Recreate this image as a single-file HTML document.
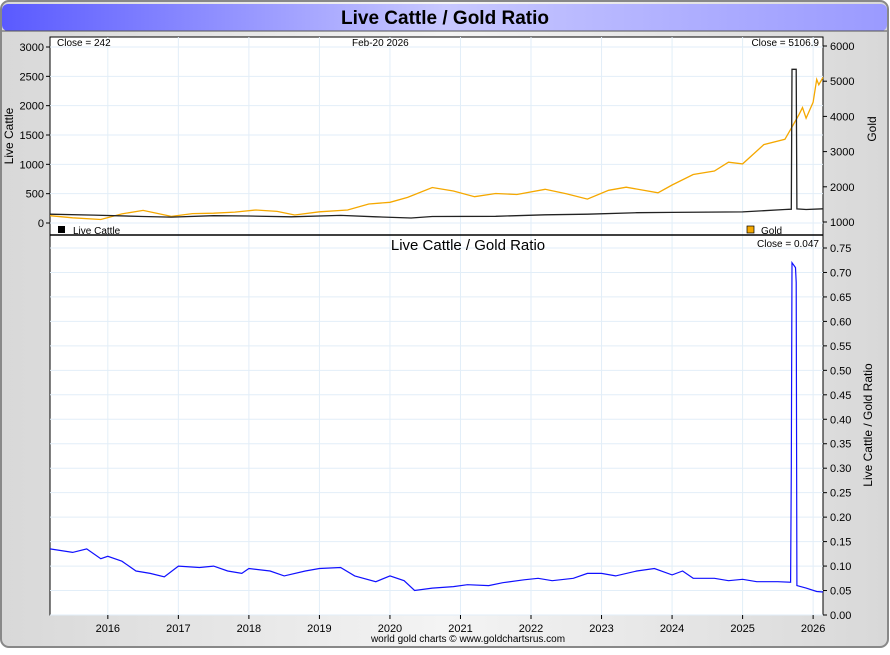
<!DOCTYPE html>
<html><head><meta charset="utf-8"><style>
body{margin:0;background:#fff;font-family:"Liberation Sans",sans-serif}
#wrap{position:relative;width:890px;height:650px}
</style></head><body>
<div id="wrap">
<svg id="svg" width="890" height="650" xmlns="http://www.w3.org/2000/svg" font-family="Liberation Sans, sans-serif">
<defs>
<linearGradient id="tg" x1="0" x2="1"><stop offset="0" stop-color="#5a5aff"/><stop offset="0.5" stop-color="#c8c8ff"/><stop offset="1" stop-color="#9a9aff"/></linearGradient>
<linearGradient id="bg" x1="0" x2="1"><stop offset="0" stop-color="#d8d8d8"/><stop offset="0.5" stop-color="#f4f4f4"/><stop offset="1" stop-color="#d8d8d8"/></linearGradient>
</defs>
<rect x="1" y="1" width="887" height="646" rx="8" fill="url(#bg)" stroke="#888" stroke-width="2"/>
<rect x="2" y="4" width="885" height="27" rx="6" fill="url(#tg)"/>
<line x1="2" y1="31" x2="887" y2="31" stroke="#555"/>
<text x="445" y="24" text-anchor="middle" font-size="19" font-weight="bold">Live Cattle / Gold Ratio</text>
<rect x="50" y="37" width="773" height="578" fill="#fff" stroke="#000"/>
<g id="grid"></g>
<g id="marks"></g>
<line x1="50" y1="235" x2="823" y2="235" stroke="#000" stroke-width="1.5"/>
<g id="axes" font-size="11"></g>
<text x="57" y="46" font-size="10">Close = 242</text>
<text x="352" y="46" font-size="10">Feb-20  2026</text>
<text x="819" y="46" font-size="10" text-anchor="end">Close = 5106.9</text>
<rect x="58" y="226" width="7" height="7" fill="#000"/>
<text x="73" y="234" font-size="10">Live Cattle</text>
<rect x="747" y="226" width="7" height="7" fill="#f5a800" stroke="#000" stroke-width="0.7"/>
<text x="761" y="234" font-size="10">Gold</text>
<text x="468" y="250" font-size="15" text-anchor="middle">Live Cattle  /  Gold Ratio</text>
<text x="819" y="247" font-size="10" text-anchor="end">Close = 0.047</text>
<text transform="translate(13,136) rotate(-90)" font-size="12" text-anchor="middle">Live Cattle</text>
<text transform="translate(876,129) rotate(-90)" font-size="12" text-anchor="middle">Gold</text>
<text transform="translate(872,425) rotate(-90)" font-size="12" text-anchor="middle">Live Cattle / Gold Ratio</text>
<text x="468" y="642" font-size="10" text-anchor="middle">world gold charts © www.goldchartsrus.com</text>
</svg>
</div>
<script>
const years=[2016,2017,2018,2019,2020,2021,2022,2023,2024,2025,2026];
const cattleTicks=[0,500,1000,1500,2000,2500,3000];
const goldTicks=[1000,2000,3000,4000,5000,6000];
const ratioTicks=[0,0.05,0.10,0.15,0.20,0.25,0.30,0.35,0.40,0.45,0.50,0.55,0.60,0.65,0.70,0.75];
const goldDates=[2015.18,2015.5,2015.9,2016.2,2016.5,2016.9,2017.2,2017.5,2017.8,2018.1,2018.4,2018.65,2019.0,2019.4,2019.7,2020.0,2020.25,2020.6,2020.9,2021.2,2021.5,2021.8,2022.2,2022.5,2022.8,2023.1,2023.35,2023.8,2024.0,2024.3,2024.6,2024.8,2025.0,2025.3,2025.6,2025.7,2025.8,2025.85,2025.9,2026.0,2026.05,2026.08,2026.14];
const goldValues=[1180,1120,1070,1230,1330,1160,1240,1250,1280,1340,1300,1200,1290,1340,1510,1560,1700,1980,1880,1720,1810,1780,1930,1800,1650,1900,1990,1830,2050,2350,2450,2700,2650,3200,3350,3700,4050,4250,3950,4400,5050,4900,5107];
const cattleDates=[2015.18,2015.8,2016.5,2016.9,2017.5,2018.0,2018.6,2019.3,2019.8,2020.3,2020.6,2021.5,2022.2,2022.8,2023.5,2024.0,2024.5,2025.0,2025.6,2025.69,2025.7,2025.76,2025.77,2025.9,2026.14];
const cattleValues=[150,135,110,100,125,120,105,130,105,85,110,115,140,150,175,180,185,190,230,235,2620,2620,240,230,242];
const ratioDates=[2015.18,2015.5,2015.7,2015.9,2016.0,2016.2,2016.4,2016.6,2016.8,2017.0,2017.3,2017.5,2017.7,2017.9,2018.0,2018.3,2018.5,2018.8,2019.0,2019.3,2019.5,2019.8,2020.0,2020.2,2020.35,2020.6,2020.9,2021.1,2021.4,2021.6,2021.9,2022.1,2022.3,2022.6,2022.8,2023.0,2023.2,2023.5,2023.75,2024.0,2024.15,2024.3,2024.6,2024.8,2025.0,2025.2,2025.5,2025.68,2025.69,2025.7,2025.75,2025.76,2025.77,2025.9,2026.05,2026.14];
const ratioValues=[0.135,0.128,0.135,0.115,0.12,0.11,0.09,0.085,0.078,0.10,0.097,0.10,0.09,0.085,0.095,0.09,0.08,0.09,0.095,0.097,0.08,0.068,0.08,0.07,0.05,0.055,0.058,0.062,0.06,0.066,0.072,0.075,0.07,0.075,0.085,0.085,0.08,0.09,0.095,0.082,0.09,0.075,0.075,0.07,0.073,0.068,0.068,0.067,0.3,0.72,0.71,0.68,0.06,0.055,0.048,0.047];

const X0=50,X1=823,T0=2015.18,T1=2026.14;
const xs=t=>X0+(t-T0)/(T1-T0)*(X1-X0);
const yCattle=v=>223-v/3000*176;
const yGold=v=>222-(v-1000)/5000*176;
const yRatio=v=>615-v/0.75*367;
const NS="http://www.w3.org/2000/svg";
const mk=(tag,at,parent)=>{const e=document.createElementNS(NS,tag);for(const k in at)e.setAttribute(k,at[k]);document.getElementById(parent).appendChild(e);return e;};

years.forEach(y=>{
  const x=xs(y);
  const g=mk('line',{x1:x,x2:x,y1:37,y2:615,stroke:'#e2eef8'},'grid');
  
  
  mk('line',{x1:x,x2:x,y1:615,y2:619,stroke:'#000'},'axes');
  const t=mk('text',{x:x,y:632,'text-anchor':'middle'},'axes');t.textContent=y;
  
  
});
cattleTicks.forEach(v=>{
  const y=yCattle(v);
  const g=mk('line',{x1:50,x2:823,y1:y,y2:y,stroke:'#e2eef8'},'grid');
  
  
  mk('line',{x1:46,x2:50,y1:y,y2:y,stroke:'#000'},'axes');
  const t=mk('text',{x:44,y:y+4,'text-anchor':'end'},'axes');t.textContent=v;
  
  
});
goldTicks.forEach(v=>{
  const y=yGold(v);
  mk('line',{x1:823,x2:827,y1:y,y2:y,stroke:'#000'},'axes');
  const t=mk('text',{x:830,y:y+4},'axes');t.textContent=v;
  
  
});
ratioTicks.forEach(v=>{
  const y=yRatio(v);
  const g=mk('line',{x1:50,x2:823,y1:y,y2:y,stroke:'#e2eef8'},'grid');
  
  
  mk('line',{x1:823,x2:827,y1:y,y2:y,stroke:'#000'},'axes');
  const t=mk('text',{x:830,y:y+4},'axes');t.textContent=v.toFixed(2);
  
  
});
const path=(d,v,fx,fy)=>d.map((t,i)=>(i?'L':'M')+xs(t).toFixed(1)+','+fy(v[i]).toFixed(1)).join('');
const g1=mk('path',{d:path(goldDates,goldValues,xs,yGold),fill:'none',stroke:'#f5a800','stroke-width':1.3},'marks');


const c1=mk('path',{d:path(cattleDates,cattleValues,xs,yCattle),fill:'none',stroke:'#222','stroke-width':1.3},'marks');


const r1=mk('path',{d:path(ratioDates,ratioValues,xs,yRatio),fill:'none',stroke:'#1010ff','stroke-width':1.2},'marks');


</script>
</body></html>
